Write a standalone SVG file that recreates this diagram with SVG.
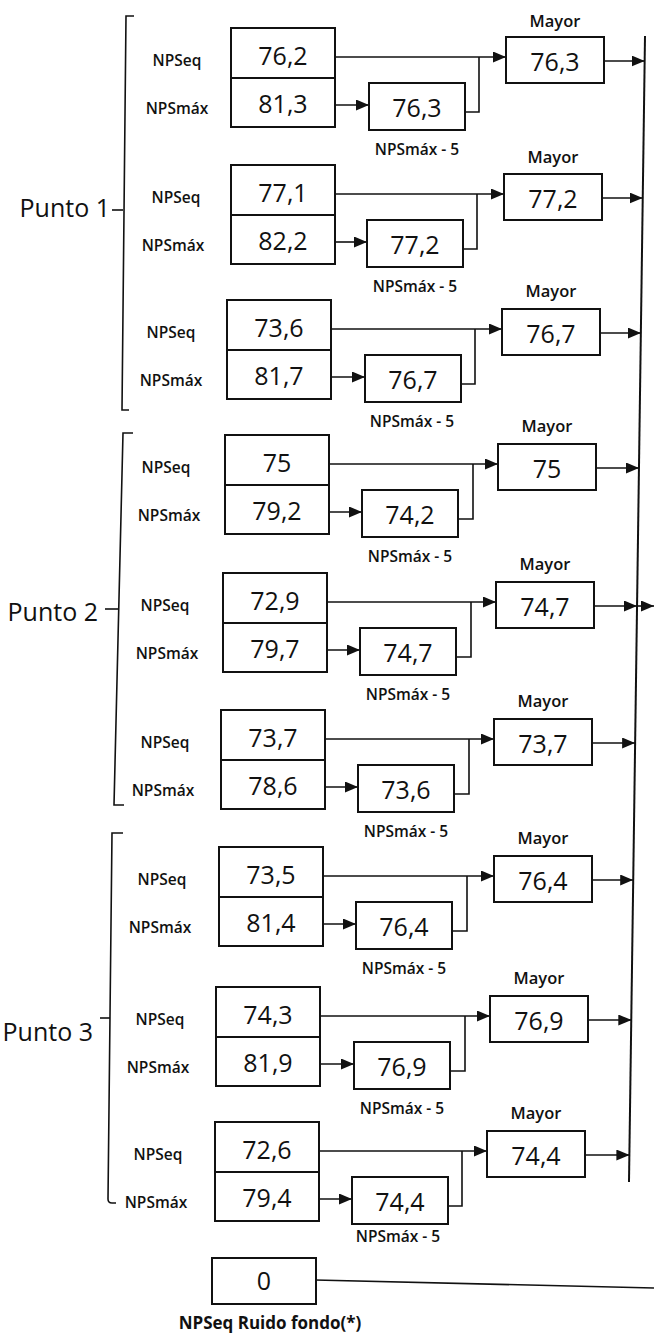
<svg xmlns="http://www.w3.org/2000/svg" width="654" height="1342" viewBox="0 0 654 1342">
<style>
text{font-family:"Open Sans","Liberation Sans",sans-serif;fill:#111}
.box{fill:#fff;stroke:#111;stroke-width:2}
.v{font-size:25px;text-anchor:middle}
.lb{font-size:15.5px;font-weight:600;text-anchor:middle}
.my{font-size:16.5px;font-weight:600;text-anchor:middle}
.n5{font-size:15.5px;font-weight:600;text-anchor:middle}
.pt{font-size:25px;text-anchor:end}
.c{fill:none;stroke:#111;stroke-width:1.6}
.a{fill:none;stroke:#111;stroke-width:1.6;marker-end:url(#ah)}
.br{fill:none;stroke:#111;stroke-width:1.6}
</style>
<defs>
<marker id="ah" markerUnits="userSpaceOnUse" markerWidth="13" markerHeight="11" refX="13" refY="5.5" orient="auto">
<path d="M0,0 L13,5.5 L0,11 Z" fill="#111"/>
</marker>
</defs>
<rect width="654" height="1342" fill="#fff"/>

<g id="brackets">
<path class="br" d="M134,16 H126 L122,410 H129"/>
<path class="br" d="M112,210 H123"/>
<text class="pt" x="110" y="217">Punto 1</text>
<path class="br" d="M133,433 H123 L114,805 H124"/>
<path class="br" d="M105,609 H119"/>
<text class="pt" x="98" y="621">Punto 2</text>
<path class="br" d="M123,833 H112 L108,1199 Q108,1203 112,1203 H116"/>
<path class="br" d="M100,1018 H110"/>
<text class="pt" x="93" y="1041">Punto 3</text>
</g>

<g id="connectors">
<line x1="645" y1="36" x2="629" y2="1182" stroke="#111" stroke-width="2"/>
<path class="a" d="M335,57 H506"/><path class="a" d="M335,105 H369"/><path class="c" d="M465,112 H479 V57"/><path class="a" d="M604,61 H644.7"/>
<path class="a" d="M335,194 H504"/><path class="a" d="M335,242 H367"/><path class="c" d="M463,249 H477 V194"/><path class="a" d="M602,198 H642.7"/>
<path class="a" d="M331,329 H502"/><path class="a" d="M331,377 H365"/><path class="c" d="M461,384 H475 V329"/><path class="a" d="M600,333 H640.9"/>
<path class="a" d="M329,464 H498"/><path class="a" d="M329,512 H362"/><path class="c" d="M458,519 H473 V464"/><path class="a" d="M596,468 H639"/>
<path class="a" d="M327,602 H496"/><path class="a" d="M327,650 H360"/><path class="c" d="M456,657 H471 V602"/><path class="a" d="M594,606 H637"/><path class="a" d="M637,606 H654"/>
<path class="a" d="M325,739 H494"/><path class="a" d="M325,787 H358"/><path class="c" d="M454,794 H469 V739"/><path class="a" d="M592,743 H635.1"/>
<path class="a" d="M323,876 H494"/><path class="a" d="M323,924 H356"/><path class="c" d="M452,931 H467 V876"/><path class="a" d="M592,880 H633.2"/>
<path class="a" d="M320,1016 H490"/><path class="a" d="M320,1064 H354"/><path class="c" d="M450,1071 H465 V1016"/><path class="a" d="M588,1020 H631.3"/>
<path class="a" d="M319,1151 H487"/><path class="a" d="M319,1199 H352"/><path class="c" d="M448,1206 H462 V1151"/><path class="a" d="M585,1155 H629.4"/>
<path class="c" d="M315,1280 L654,1288"/>
</g>

<g id="g1">
<text class="lb" x="177" y="66">NPSeq</text><text class="lb" x="177" y="114">NPSmáx</text>
<rect class="box" x="231" y="28" width="104" height="50"/><text class="v" x="283" y="65">76,2</text>
<rect class="box" x="231" y="78" width="104" height="49"/><text class="v" x="283" y="113">81,3</text>
<rect class="box" x="369" y="83" width="96" height="47"/><text class="v" x="417" y="117">76,3</text>
<text class="n5" x="417" y="155">NPSmáx - 5</text>
<text class="my" x="555" y="27">Mayor</text>
<rect class="box" x="506" y="37" width="98" height="46"/><text class="v" x="555" y="71">76,3</text>
</g>
<g id="g2">
<text class="lb" x="176" y="203">NPSeq</text><text class="lb" x="173" y="251">NPSmáx</text>
<rect class="box" x="231" y="165" width="104" height="50"/><text class="v" x="283" y="202">77,1</text>
<rect class="box" x="231" y="215" width="104" height="49"/><text class="v" x="283" y="250">82,2</text>
<rect class="box" x="367" y="220" width="96" height="47"/><text class="v" x="415" y="254">77,2</text>
<text class="n5" x="415" y="292">NPSmáx - 5</text>
<text class="my" x="553" y="163">Mayor</text>
<rect class="box" x="504" y="174" width="98" height="46"/><text class="v" x="553" y="208">77,2</text>
</g>
<g id="g3">
<text class="lb" x="171" y="338">NPSeq</text><text class="lb" x="171" y="386">NPSmáx</text>
<rect class="box" x="227" y="300" width="104" height="50"/><text class="v" x="279" y="337">73,6</text>
<rect class="box" x="227" y="350" width="104" height="49"/><text class="v" x="279" y="385">81,7</text>
<rect class="box" x="365" y="355" width="96" height="47"/><text class="v" x="413" y="389">76,7</text>
<text class="n5" x="412" y="427">NPSmáx - 5</text>
<text class="my" x="551" y="297">Mayor</text>
<rect class="box" x="502" y="309" width="98" height="46"/><text class="v" x="551" y="343">76,7</text>
</g>
<g id="g4">
<text class="lb" x="166" y="473">NPSeq</text><text class="lb" x="169" y="521">NPSmáx</text>
<rect class="box" x="225" y="435" width="104" height="50"/><text class="v" x="277" y="472">75</text>
<rect class="box" x="225" y="485" width="104" height="49"/><text class="v" x="277" y="520">79,2</text>
<rect class="box" x="362" y="490" width="96" height="47"/><text class="v" x="410" y="524">74,2</text>
<text class="n5" x="410" y="562">NPSmáx - 5</text>
<text class="my" x="547" y="432">Mayor</text>
<rect class="box" x="498" y="444" width="98" height="46"/><text class="v" x="547" y="478">75</text>
</g>
<g id="g5">
<text class="lb" x="165" y="611">NPSeq</text><text class="lb" x="167" y="659">NPSmáx</text>
<rect class="box" x="223" y="573" width="104" height="50"/><text class="v" x="275" y="610">72,9</text>
<rect class="box" x="223" y="623" width="104" height="49"/><text class="v" x="275" y="658">79,7</text>
<rect class="box" x="360" y="628" width="96" height="47"/><text class="v" x="408" y="662">74,7</text>
<text class="n5" x="408" y="700">NPSmáx - 5</text>
<text class="my" x="545" y="570">Mayor</text>
<rect class="box" x="496" y="582" width="98" height="46"/><text class="v" x="545" y="616">74,7</text>
</g>
<g id="g6">
<text class="lb" x="165" y="748">NPSeq</text><text class="lb" x="163" y="796">NPSmáx</text>
<rect class="box" x="221" y="710" width="104" height="50"/><text class="v" x="273" y="747">73,7</text>
<rect class="box" x="221" y="760" width="104" height="49"/><text class="v" x="273" y="795">78,6</text>
<rect class="box" x="358" y="765" width="96" height="47"/><text class="v" x="406" y="799">73,6</text>
<text class="n5" x="406" y="837">NPSmáx - 5</text>
<text class="my" x="543" y="707">Mayor</text>
<rect class="box" x="494" y="719" width="98" height="46"/><text class="v" x="543" y="753">73,7</text>
</g>
<g id="g7">
<text class="lb" x="162" y="885">NPSeq</text><text class="lb" x="160" y="933">NPSmáx</text>
<rect class="box" x="219" y="847" width="104" height="50"/><text class="v" x="271" y="884">73,5</text>
<rect class="box" x="219" y="897" width="104" height="49"/><text class="v" x="271" y="932">81,4</text>
<rect class="box" x="356" y="902" width="96" height="47"/><text class="v" x="404" y="936">76,4</text>
<text class="n5" x="404" y="974">NPSmáx - 5</text>
<text class="my" x="543" y="844">Mayor</text>
<rect class="box" x="494" y="856" width="98" height="46"/><text class="v" x="543" y="890">76,4</text>
</g>
<g id="g8">
<text class="lb" x="160" y="1025">NPSeq</text><text class="lb" x="158" y="1073">NPSmáx</text>
<rect class="box" x="216" y="987" width="104" height="50"/><text class="v" x="268" y="1024">74,3</text>
<rect class="box" x="216" y="1037" width="104" height="49"/><text class="v" x="268" y="1072">81,9</text>
<rect class="box" x="354" y="1042" width="96" height="47"/><text class="v" x="402" y="1076">76,9</text>
<text class="n5" x="402" y="1114">NPSmáx - 5</text>
<text class="my" x="539" y="984">Mayor</text>
<rect class="box" x="490" y="996" width="98" height="46"/><text class="v" x="539" y="1030">76,9</text>
</g>
<g id="g9">
<text class="lb" x="158" y="1160">NPSeq</text><text class="lb" x="156" y="1208">NPSmáx</text>
<rect class="box" x="215" y="1122" width="104" height="50"/><text class="v" x="267" y="1159">72,6</text>
<rect class="box" x="215" y="1172" width="104" height="49"/><text class="v" x="267" y="1207">79,4</text>
<rect class="box" x="352" y="1177" width="96" height="47"/><text class="v" x="400" y="1211">74,4</text>
<text class="n5" x="398" y="1242">NPSmáx - 5</text>
<text class="my" x="536" y="1119">Mayor</text>
<rect class="box" x="487" y="1131" width="98" height="46"/><text class="v" x="536" y="1165">74,4</text>
</g>
<g id="ruido">
<rect class="box" x="212" y="1258" width="104" height="46"/><text class="v" x="264" y="1290">0</text>
<text x="270" y="1329" style="font-size:17px;font-weight:bold;text-anchor:middle">NPSeq Ruido fondo(*)</text>
</g>
</svg>
